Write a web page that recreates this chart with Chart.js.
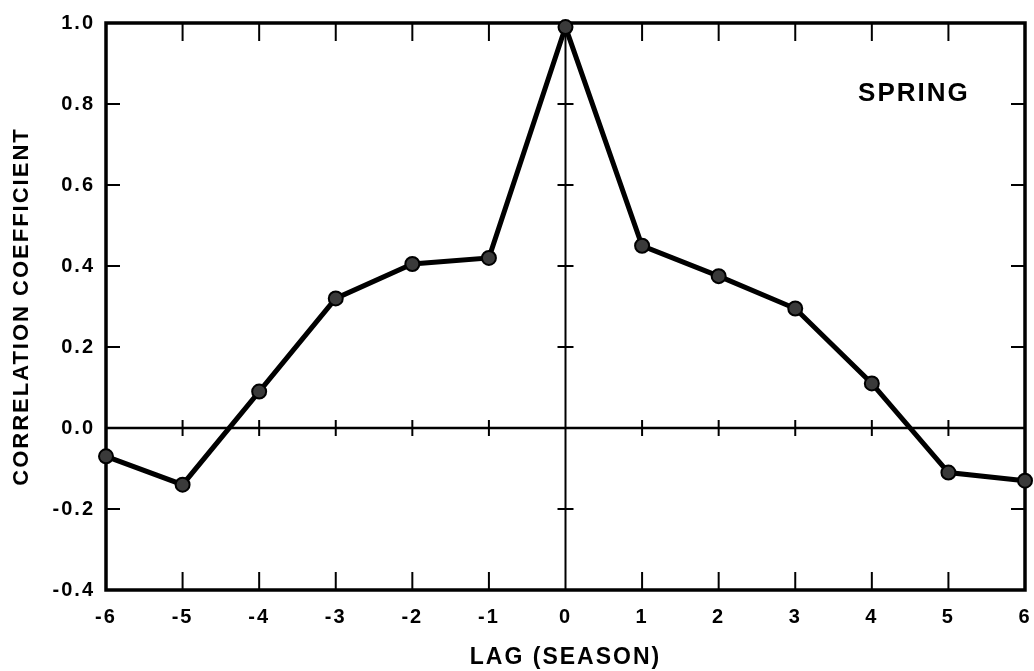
<!DOCTYPE html>
<html>
<head>
<meta charset="utf-8">
<script src="https://cdn.jsdelivr.net/npm/chart.js@4/dist/chart.umd.min.js"></script>
<style>
  html, body { margin: 0; padding: 0; background: #fff; }
  #wrap { width: 1034px; height: 671px; }
</style>
</head>
<body>
<div id="wrap"><canvas id="c" width="1034" height="671"></canvas></div>
<script>
// ---- data ----
const lags = [-6, -5, -4, -3, -2, -1, 0, 1, 2, 3, 4, 5, 6];
const correlation = [-0.07, -0.14, 0.09, 0.32, 0.405, 0.42, 0.99, 0.45, 0.375, 0.295, 0.11, -0.11, -0.13];
const xTickValues = [-6, -5, -4, -3, -2, -1, 0, 1, 2, 3, 4, 5, 6];
const xTickLabels = ['-6', '-5', '-4', '-3', '-2', '-1', '0', '1', '2', '3', '4', '5', '6'];
const yTickValues = [-0.4, -0.2, 0.0, 0.2, 0.4, 0.6, 0.8, 1.0];
const yTickLabels = ['-0.4', '-0.2', '0.0', '0.2', '0.4', '0.6', '0.8', '1.0'];
const seasonLabel = 'SPRING';
const xTitle = 'LAG (SEASON)';
const yTitle = 'CORRELATION COEFFICIENT';

const FONT = '"Liberation Sans", Arial, Helvetica, sans-serif';
Chart.defaults.color = '#000';
Chart.defaults.font.family = FONT;

function line(ctx, x1, y1, x2, y2) {
  ctx.beginPath(); ctx.moveTo(x1, y1); ctx.lineTo(x2, y2); ctx.stroke();
}

const spacingPlugin = {
  id: 'spacing',
  beforeDraw(chart) { chart.ctx.letterSpacing = '2px'; },
  afterDraw(chart) { chart.ctx.letterSpacing = '0px'; }
};

const axisMarks = {
  id: 'axisMarks',
  beforeDatasetsDraw(chart) {
    const { ctx, chartArea: { left, right, top, bottom }, scales: { x, y } } = chart;
    const y0 = y.getPixelForValue(0);
    const x0 = x.getPixelForValue(0);
    ctx.save();
    ctx.strokeStyle = '#000';
    ctx.lineCap = 'butt';
    ctx.lineWidth = 2.5;
    line(ctx, left, y0, right, y0);
    ctx.lineWidth = 2;
    line(ctx, x0, top, x0, bottom);
    ctx.lineWidth = 2;
    xTickValues.forEach(v => {
      if (v === xTickValues[0] || v === xTickValues[xTickValues.length - 1]) return;
      const px = x.getPixelForValue(v);
      if (v !== 0) {
        line(ctx, px, bottom, px, bottom - 18);
        line(ctx, px, top, px, top + 18);
        line(ctx, px, y0 - 8, px, y0 + 8);
      }
    });
    yTickValues.forEach(v => {
      if (v === yTickValues[0] || v === yTickValues[yTickValues.length - 1]) return;
      const py = y.getPixelForValue(v);
      if (v !== 0) {
        line(ctx, left, py, left + 14, py);
        line(ctx, right, py, right - 14, py);
        line(ctx, x0 - 8, py, x0 + 8, py);
      }
    });
    ctx.lineWidth = 3.5;
    ctx.strokeRect(left, top, right - left, bottom - top);
    ctx.restore();
  },
  afterDraw(chart) {
    const { ctx, scales: { x, y } } = chart;
    ctx.save();
    ctx.letterSpacing = '2px';
    ctx.fillStyle = '#000';
    ctx.font = 'bold 26px ' + FONT;
    ctx.textAlign = 'center';
    ctx.textBaseline = 'middle';
    ctx.fillText(seasonLabel, x.getPixelForValue(4.55), y.getPixelForValue(0.825));
    ctx.restore();
  }
};

new Chart(document.getElementById('c'), {
  type: 'line',
  data: {
    datasets: [{
      data: lags.map((l, i) => ({ x: l, y: correlation[i] })),
      borderColor: '#000',
      borderWidth: 5,
      pointRadius: 7,
      pointBackgroundColor: '#3a3a3a',
      pointBorderColor: '#000',
      pointBorderWidth: 2,
      tension: 0,
      clip: false
    }]
  },
  options: {
    responsive: false,
    animation: false,
    events: [],
    layout: { padding: { top: 23, right: 5, left: 0, bottom: 0 } },
    plugins: { legend: { display: false }, tooltip: { enabled: false } },
    scales: {
      x: {
        type: 'linear',
        min: -6, max: 6,
        grid: { display: false },
        border: { display: false },
        afterBuildTicks(s) { s.ticks = xTickValues.map(v => ({ value: v })); },
        ticks: {
          padding: 7,
          font: { size: 20, weight: 'bold' },
          maxRotation: 0,
          autoSkip: false,
          callback: (v) => xTickLabels[xTickValues.indexOf(v)]
        },
        title: {
          display: true,
          text: xTitle,
          font: { size: 23, weight: 'bold' },
          padding: { top: 0, bottom: 0 }
        },
        afterFit(s) { s.height = 81; s.paddingLeft = 0; s.paddingRight = 0; }
      },
      y: {
        min: -0.4, max: 1.0,
        grid: { display: false },
        border: { display: false },
        afterBuildTicks(s) { s.ticks = yTickValues.map(v => ({ value: v })); },
        ticks: {
          padding: 3,
          font: { size: 20, weight: 'bold' },
          autoSkip: false,
          callback: (v) => {
            const i = yTickValues.findIndex(t => Math.abs(t - v) < 1e-9);
            return i >= 0 ? yTickLabels[i] : '';
          }
        },
        title: {
          display: true,
          text: yTitle,
          font: { size: 22, weight: 'bold' },
          padding: { top: 9, bottom: 0 }
        },
        afterFit(s) { s.width = 106; s.paddingTop = 0; s.paddingBottom = 0; }
      }
    }
  },
  plugins: [spacingPlugin, axisMarks]
});
</script>
</body>
</html>
